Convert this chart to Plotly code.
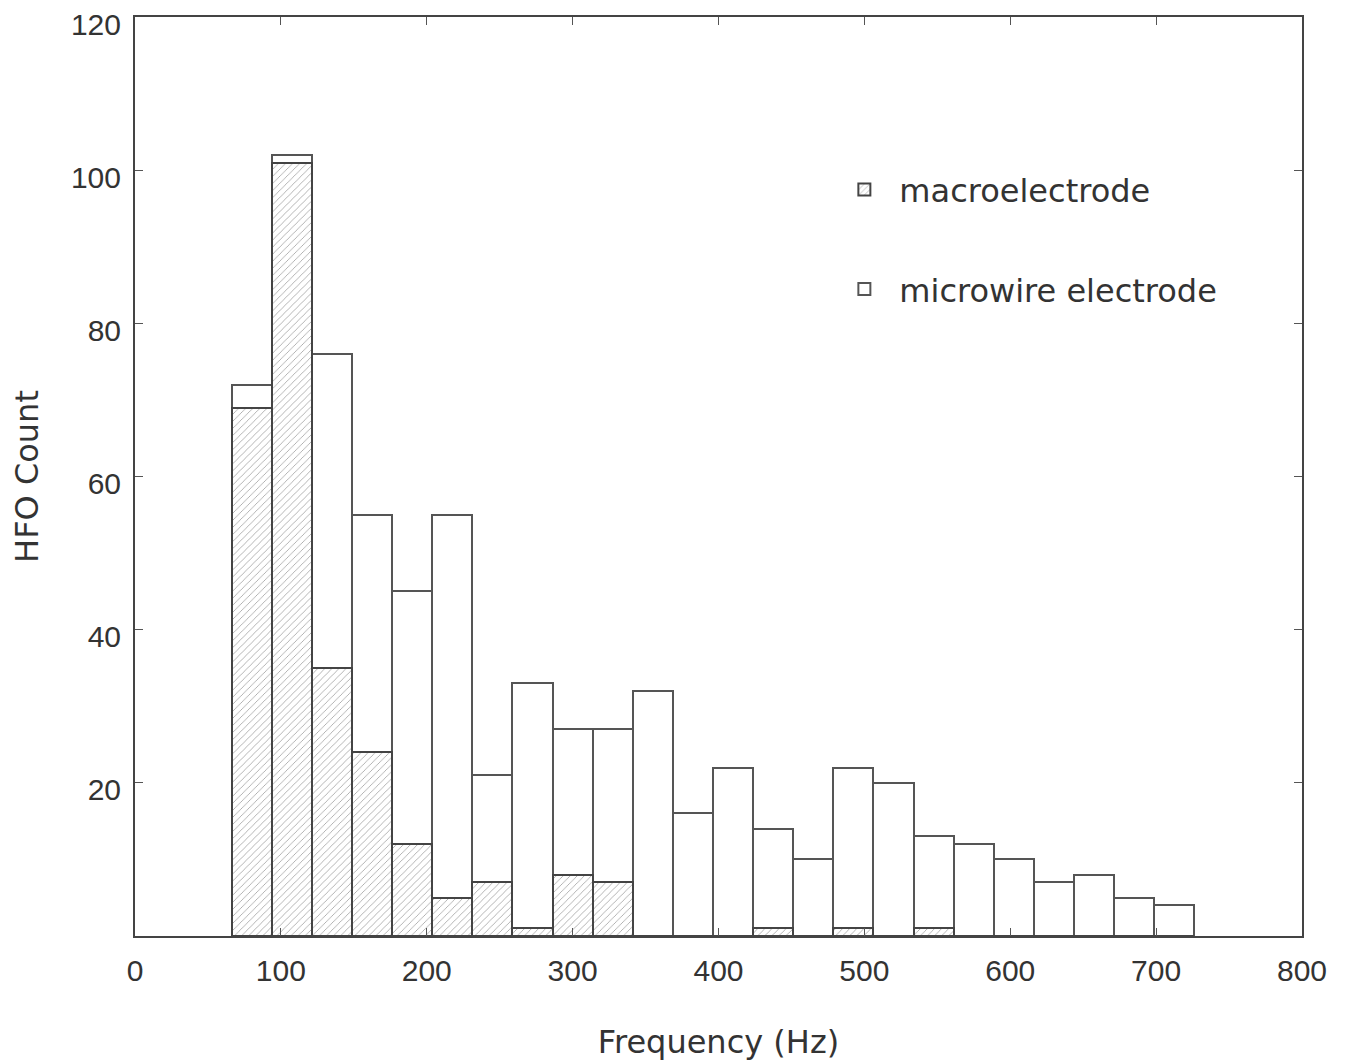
import plotly.graph_objects as go

# Bin centres (Hz), bin width 27.5 Hz
bin_centers = [80 + 27.5 * i for i in range(24)]
microwire = [72, 102, 76, 55, 45, 55, 21, 33, 27, 27, 32, 16,
             22, 14, 10, 22, 20, 13, 12, 10, 7, 8, 5, 4]
macro = [69, 101, 35, 24, 12, 5, 7, 1, 8, 7, 0, 0,
         0, 1, 0, 1, 0, 1, 0, 0, 0, 0, 0, 0]
x_ticks = [0, 100, 200, 300, 400, 500, 600, 700, 800]
y_ticks = [20, 40, 60, 80, 100, 120]

fig = go.Figure()
fig.add_trace(go.Bar(
    x=bin_centers, y=microwire, name="microwire electrode",
    marker=dict(color="white", line=dict(color="#555555", width=2)),
    legendgroup="b", legendrank=2,
))
fig.add_trace(go.Bar(
    x=bin_centers, y=macro, name="macroelectrode",
    marker=dict(color="white",
                line=dict(color="#444444", width=2),
                pattern=dict(shape="/", fgcolor="#9c9c9c", bgcolor="white",
                             size=5, solidity=0.15, fillmode="replace")),
    legendgroup="a", legendrank=1,
))

fig.update_layout(
    width=1353, height=1062,
    margin=dict(l=127, r=59, t=9, b=134),
    paper_bgcolor="white", plot_bgcolor="white",
    barmode="overlay", bargap=0,
    font=dict(family="Liberation Sans, Arial, sans-serif", size=30, color="#333333"),
    legend=dict(
        x=0.595, y=0.842, xanchor="left", yanchor="top",
        font=dict(family="DejaVu Sans, sans-serif", size=32, color="#333333"),
        traceorder="grouped", tracegroupgap=55,
        bgcolor="rgba(0,0,0,0)", itemwidth=60,
    ),
    xaxis=dict(
        range=[0, 800], tickvals=x_ticks, ticktext=[str(v) for v in x_ticks],
        ticks="inside", ticklen=8, tickcolor="#555555", mirror="ticks",
        showline=True, linecolor="#444444", linewidth=2, showgrid=False,
        zeroline=False, automargin=False, ticklabelstandoff=7,
        ticklabeloverflow="allow",
        title=dict(text="Frequency (Hz)", standoff=45,
                   font=dict(family="DejaVu Sans, sans-serif", size=32, color="#333333")),
    ),
    yaxis=dict(
        range=[0, 120], tickvals=y_ticks, ticktext=[str(v) for v in y_ticks],
        ticks="inside", ticklen=8, tickcolor="#555555", mirror="ticks",
        showline=True, linecolor="#444444", linewidth=2, showgrid=False,
        zeroline=False, automargin=False, ticklabelstandoff=6,
        ticklabelshift=7, ticklabeloverflow="allow",
        title=dict(text="HFO Count", standoff=25,
                   font=dict(family="DejaVu Sans, sans-serif", size=32, color="#333333")),
    ),
)

fig.write_html("out.html")
